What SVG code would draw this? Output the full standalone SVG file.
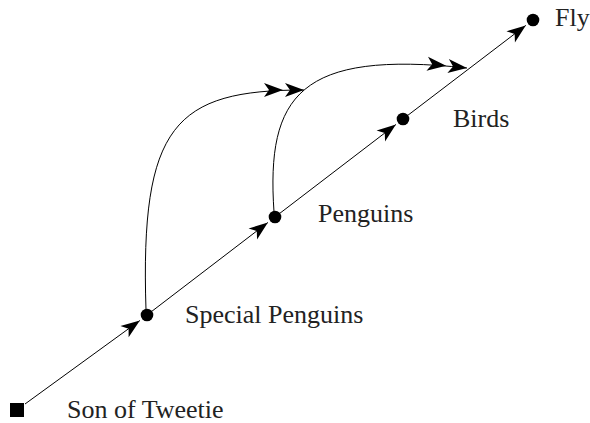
<svg xmlns="http://www.w3.org/2000/svg" width="590" height="423" viewBox="0 0 590 423">
<style>
.edge{fill:none;stroke:#000;stroke-width:1}
.node{fill:#000}
.lbl{font-family:"Liberation Serif","Times New Roman",serif;font-size:26px;fill:#222}
</style>
<defs>
<marker id="arr" markerUnits="userSpaceOnUse" viewBox="-22 -8 24 16" refX="0" refY="0" markerWidth="24" markerHeight="16" orient="auto" overflow="visible">
<path d="M0,0 L-19,-7 L-14,0 L-19,7 Z" fill="#000"/>
</marker>
<marker id="dbl" markerUnits="userSpaceOnUse" viewBox="-42 -8 44 16" refX="0" refY="0" markerWidth="44" markerHeight="16" orient="auto" overflow="visible">
<path d="M0,0 L-19,-7 L-14,0 L-19,7 Z M-21,0 L-40,-7 L-35,0 L-40,7 Z" fill="#000"/>
</marker>
</defs>
<g id="connectors">
<line class="edge" x1="25" y1="404" x2="139.9" y2="320.5" marker-end="url(#arr)"/>
<line class="edge" x1="147" y1="315" x2="267.9" y2="222.5" marker-end="url(#arr)"/>
<line class="edge" x1="275" y1="217" x2="395.9" y2="124.5" marker-end="url(#arr)"/>
<line class="edge" x1="403" y1="119" x2="525.8" y2="25.4" marker-end="url(#arr)"/>
<path class="edge" d="M146,310 C140,125 175,90 304,90" marker-end="url(#dbl)"/>
<path class="edge" d="M274,212 C266,95 300,50 467,68" marker-end="url(#dbl)"/>
</g>
<g id="son-of-tweetie">
<rect x="10" y="403" width="14" height="14" fill="#000"/>
<text class="lbl" x="67" y="418">Son of Tweetie</text>
</g>
<g id="special-penguins">
<circle class="node" cx="147" cy="315" r="6.3"/>
<text class="lbl" x="185" y="323">Special Penguins</text>
</g>
<g id="penguins">
<circle class="node" cx="275" cy="217" r="6.3"/>
<text class="lbl" x="318" y="222">Penguins</text>
</g>
<g id="birds">
<circle class="node" cx="403" cy="119" r="6.3"/>
<text class="lbl" x="453" y="127">Birds</text>
</g>
<g id="fly">
<circle class="node" cx="533" cy="20" r="6.3"/>
<text class="lbl" x="555" y="26">Fly</text>
</g>
</svg>
